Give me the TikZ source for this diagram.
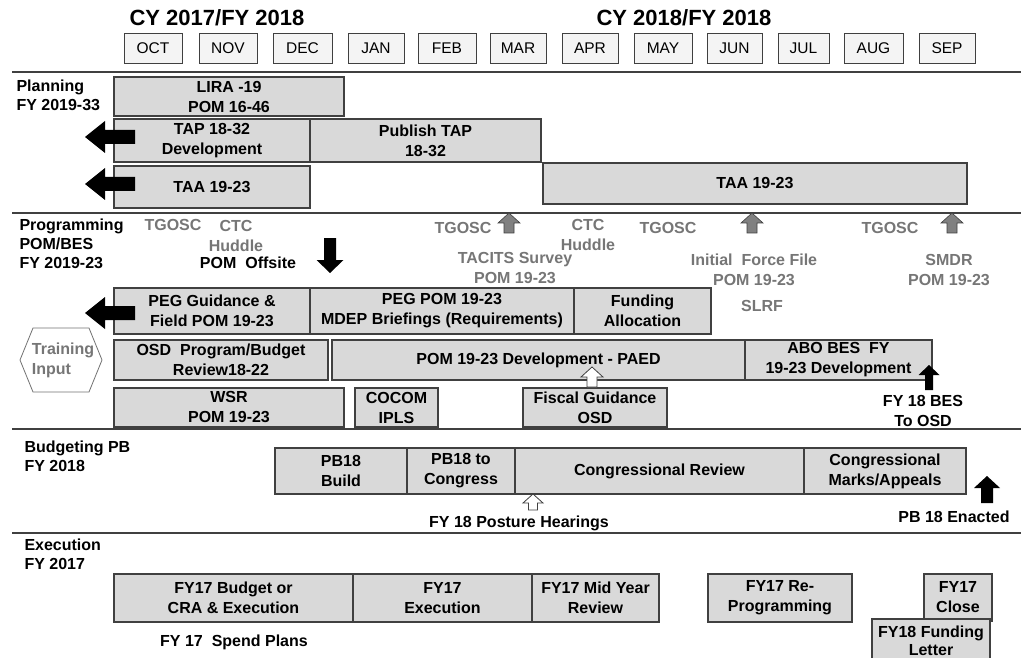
\documentclass[tikz,border=0pt]{standalone}
\usepackage{fontspec}
\setmainfont{Liberation Sans}
\usetikzlibrary{positioning}
\definecolor{barfill}{RGB}{217,217,217}
\definecolor{barline}{RGB}{64,64,64}
\definecolor{notegray}{RGB}{118,118,118}
\definecolor{monthfill}{RGB}{244,244,244}

\tikzset{
  arrlen/.store in=\arrlen, arrhead/.store in=\arrhead,
  arrtip/.store in=\arrtip, arrshaft/.store in=\arrshaft,
  arrlen=20, arrhead=22, arrtip=10, arrshaft=10,
  blockarrow/.pic={
    \path[pic actions] (0,0) -- (\arrhead/2,\arrtip) -- (\arrshaft/2,\arrtip)
      -- (\arrshaft/2,\arrlen) -- (-\arrshaft/2,\arrlen) -- (-\arrshaft/2,\arrtip)
      -- (-\arrhead/2,\arrtip) -- cycle;
  },
  bar/.style={draw=barline, fill=barfill, line width=1.2pt, inner sep=1pt, align=center,
    font=\bfseries\fontsize{16}{20}\selectfont},
  month/.style={draw=barline, fill=monthfill, line width=0.8pt, minimum height=30pt,
    inner sep=0pt, font=\fontsize{15.5}{18}\selectfont},
  phase/.style={anchor=west, align=left, font=\bfseries\fontsize{16}{19}\selectfont},
  note/.style={text=notegray, align=center, font=\bfseries\fontsize{16}{20}\selectfont},
  blacktext/.style={text=black, align=center, font=\bfseries\fontsize{16}{20}\selectfont},
  title/.style={font=\bfseries\fontsize{22}{24}\selectfont},
  sepline/.style={draw=black!75, line width=1.6pt},
  leftarr/.style={fill=black, arrlen=50, arrhead=32, arrtip=20, arrshaft=14, rotate=90},
  grayarr/.style={fill=black!50, draw=black!75, line width=0.6pt},
  whitearr/.style={fill=white, draw=black!75, line width=0.8pt}
}

% bar: name, x1, y1, x2, y2, text
\newcommand{\taskbar}[6]{%
  \node[bar, minimum width={#4-#2}, minimum height={#5-#3}] (#1)
    at ({(#2+#4)/2},{(#3+#5)/2+1}) {#6};}

\begin{document}
\begin{tikzpicture}[x=1pt, y=-1pt]
  \clip (0,0) rectangle (1021,658);
  \fill[white] (0,0) rectangle (1021,658);

  % ===== header =====
  \node[title] (fy1) at (217,18) {CY 2017/FY 2018};
  \node[title] (fy2) at (684,18) {CY 2018/FY 2018};
  \foreach \m/\cx/\w in {OCT/153/58, NOV/228/58, DEC/302.5/59, JAN/376/56, FEB/447/58,
      MAR/518/56, APR/590/56, MAY/663/58, JUN/734.5/55, JUL/803.5/51, AUG/873.5/59, SEP/947/56}
    \node[month, minimum width=\w] (m\m) at (\cx,48.5) {\m};

  % section lines
  \foreach \y in {72,213,429,533}
    \draw[sepline] (12,\y) -- (1021,\y);

  % ===== Planning =====
  \node[phase] (plan) at (13,95) {Planning\\FY 2019-33};
  \taskbar{lira}{114}{76}{344}{115}{LIRA -19\\POM 16-46}
  \taskbar{tapdev}{114}{118}{310}{161}{TAP 18-32\\Development}
  \taskbar{tappub}{310}{118}{541}{161}{Publish TAP\\18-32}
  \taskbar{taaa}{114}{165}{310}{207}{TAA 19-23}
  \taskbar{taab}{543}{162}{967}{203}{TAA 19-23}
  \pic[leftarr] (arrtap) at (85,137) {blockarrow};
  \pic[leftarr] (arrtaa) at (85,184) {blockarrow};

  % ===== Programming =====
  \node[phase] (prog) at (16,244) {Programming\\POM/BES\\FY 2019-23};
  \node[note] (tg1) at (173,225) {TGOSC};
  \node[note] (ctc1) at (236,236) {CTC\\Huddle};
  \node[blacktext] (offsite) at (248,263) {POM~~Offsite};
  \pic[fill=black, arrlen=35, arrhead=27, arrtip=13, arrshaft=12, rotate=180] (arroff) at (330,273) {blockarrow};
  \node[note] (tg2) at (463,228) {TGOSC};
  \pic[grayarr] (arrg1) at (509,213) {blockarrow};
  \node[note] (tacits) at (515,268) {TACITS Survey\\POM 19-23};
  \node[note] (ctc2) at (588,235) {CTC\\Huddle};
  \node[note] (tg3) at (668,228) {TGOSC};
  \pic[grayarr] (arrg2) at (752,213) {blockarrow};
  \node[note] (iff) at (754,270) {Initial~~Force File\\POM 19-23};
  \node[note] (slrf) at (762,306) {SLRF};
  \node[note] (tg4) at (890,228) {TGOSC};
  \pic[grayarr] (arrg3) at (952,213) {blockarrow};
  \node[note] (smdr) at (949,270) {SMDR\\POM 19-23};

  \taskbar{pegguide}{114}{287}{310}{333}{PEG Guidance \&\\Field POM 19-23}
  \taskbar{pegpom}{310}{287}{574}{333}{PEG POM 19-23\\MDEP Briefings (Requirements)}
  \taskbar{funding}{574}{287}{711}{333}{Funding\\Allocation}
  \pic[leftarr] (arrpeg) at (85,313) {blockarrow};

  \draw[draw=black!55, line width=0.8pt] (20,360) -- (33,328) -- (89,328) -- (102,360)
    -- (89,392) -- (33,392) -- cycle;
  \node[note, align=left] (train) at (63,360) {Training\\Input};

  \taskbar{osd}{114}{339}{328}{379}{OSD~~Program/Budget\\Review18-22}
  \taskbar{paed}{332}{339}{745}{379}{POM 19-23 Development - PAED}
  \taskbar{abo}{745}{339}{932}{379}{ABO BES~~FY\\19-23 Development}
  \taskbar{wsr}{114}{387}{344}{426}{WSR\\POM 19-23}
  \taskbar{cocom}{355}{387}{438}{426}{COCOM\\IPLS}
  \taskbar{fiscal}{523}{387}{667}{426}{Fiscal Guidance\\OSD}
  \pic[whitearr] (arrfis) at (592,367) {blockarrow};
  \pic[fill=black, arrlen=25, arrhead=21, arrtip=10, arrshaft=8] (arrbes) at (929,365) {blockarrow};
  \node[blacktext] (bes) at (923,411) {FY 18 BES\\To OSD};

  % ===== Budgeting =====
  \node[phase] (budg) at (21,456) {Budgeting PB\\FY 2018};
  \taskbar{pbbuild}{275}{447}{407}{493}{PB18\\Build}
  \taskbar{pbcong}{407}{447}{515}{493}{PB18 to\\Congress}
  \taskbar{congrev}{515}{447}{804}{493}{Congressional Review}
  \taskbar{marks}{804}{447}{966}{493}{Congressional\\Marks/Appeals}
  \pic[whitearr, arrlen=16, arrhead=20, arrtip=9, arrshaft=9] (arrpost) at (533,494) {blockarrow};
  \node[blacktext] (posture) at (519,523) {FY 18 Posture Hearings};
  \pic[fill=black, arrlen=27, arrhead=26, arrtip=12, arrshaft=12] (arrpb) at (987,476) {blockarrow};
  \node[blacktext] (enacted) at (954,517) {PB 18 Enacted};

  % ===== Execution =====
  \node[phase] (exec) at (21,554) {Execution\\FY 2017};
  \taskbar{budget}{114}{573}{353}{621}{FY17 Budget or\\CRA \& Execution}
  \taskbar{execution}{353}{573}{532}{621}{FY17\\Execution}
  \taskbar{midyear}{532}{573}{659}{621}{FY17 Mid Year\\Review}
  \taskbar{reprog}{708}{573}{852}{621}{FY17 Re-\\Programming}
  \taskbar{close}{924}{573}{992}{620}{FY17\\Close}
  \node[bar, minimum width=118, minimum height=44, font=\bfseries\fontsize{16}{18}\selectfont]
    (letter) at (931,641) {FY18 Funding\\Letter};
  \node[blacktext] (spend) at (234,642) {FY 17~~Spend Plans};
\end{tikzpicture}
\end{document}
